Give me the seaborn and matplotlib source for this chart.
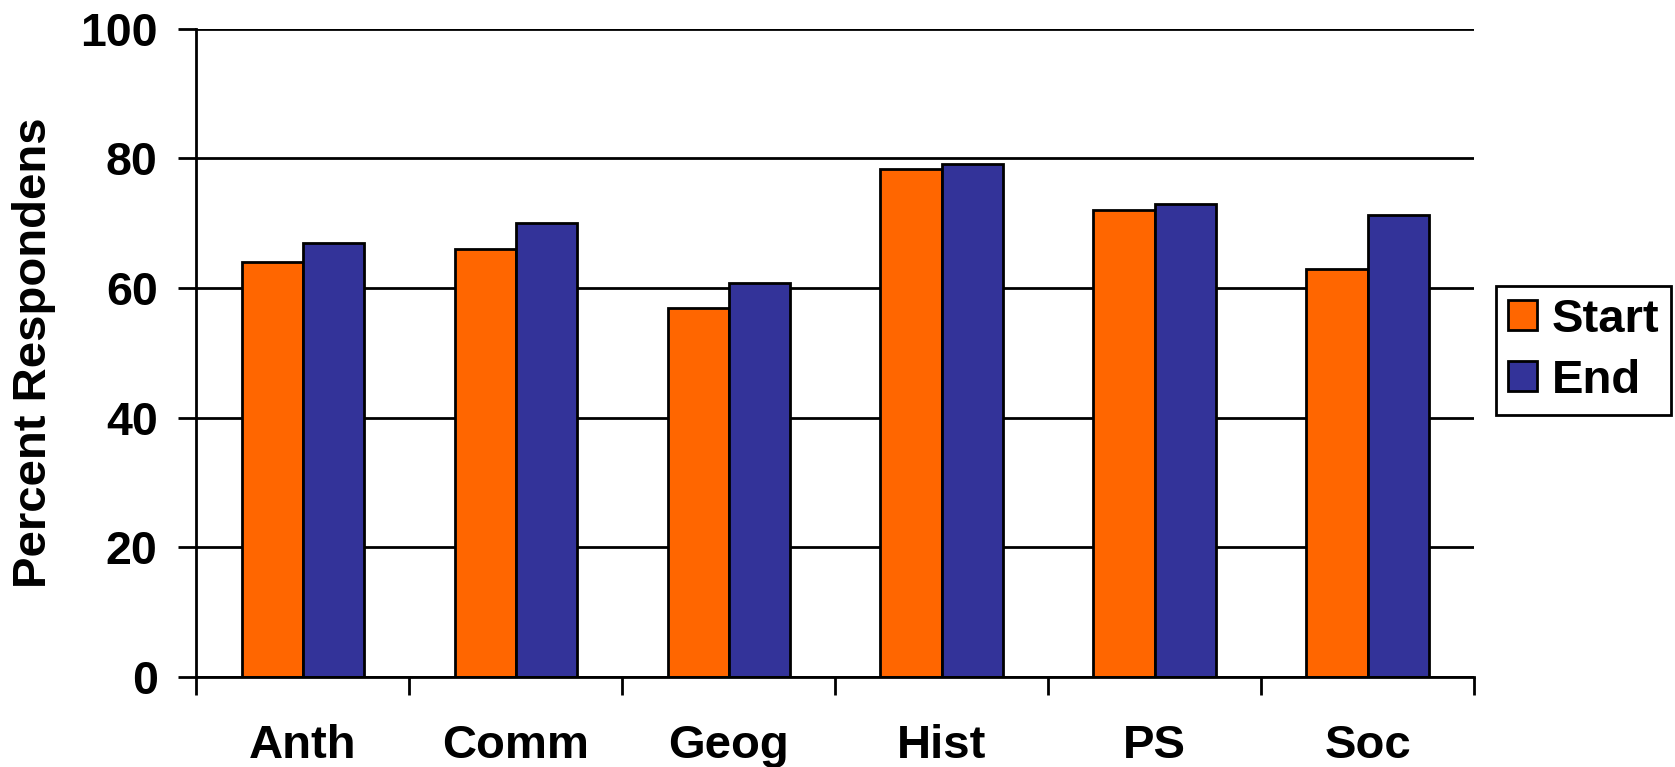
import numpy as np
import pandas as pd
import matplotlib
matplotlib.use("Agg")
import matplotlib.pyplot as plt
import seaborn as sns

categories = ["Anth", "Comm", "Geog", "Hist", "PS", "Soc"]
start_vals = [64, 66, 57, 78.3, 72, 63]
end_vals = [67, 70, 60.8, 79.2, 73, 71.2]
series_names = ["Start", "End"]
colors = ["#FF6600", "#333399"]
yticks = [0, 20, 40, 60, 80, 100]

df = pd.DataFrame({
    "Subject": categories * 2,
    "Percent": start_vals + end_vals,
    "Time": [series_names[0]] * len(categories) + [series_names[1]] * len(categories),
})

sns.set_theme(style="white")
plt.rcParams["font.family"] = ["Liberation Sans", "DejaVu Sans"]
plt.rcParams["font.weight"] = "bold"
plt.rcParams["text.color"] = "black"
plt.rcParams["axes.labelcolor"] = "black"
plt.rcParams["xtick.color"] = "black"
plt.rcParams["ytick.color"] = "black"

fig = plt.figure(figsize=(16.75, 7.67), dpi=100)
ax = fig.add_axes([0.1173, 0.1173, 0.880 - 0.1173, 0.9625 - 0.1173])

sns.barplot(data=df, x="Subject", y="Percent", hue="Time", order=categories,
            hue_order=series_names, palette=colors, width=0.575, gap=0,
            edgecolor="black", linewidth=2.0, saturation=1, ax=ax, zorder=3)

ax.set_ylim(0, 100)
ax.set_xlim(-0.5, len(categories) - 0.5)
ax.set_yticks(yticks)
ax.set_yticklabels([str(v) for v in yticks], fontsize=33.5, fontweight="bold",
                   color="black")
ax.yaxis.grid(True, color="black", linewidth=2.0, zorder=0)
ax.set_axisbelow(True)

ax.set_xticks(np.arange(-0.5, len(categories), 1.0))
ax.set_xticklabels([])
ax.set_xticks(np.arange(len(categories)), minor=True)
ax.set_xticklabels(categories, minor=True, fontsize=34, fontweight="bold",
                   color="black")
ax.tick_params(axis="x", which="major", direction="out", length=13, width=2.0,
               color="black", bottom=True)
ax.tick_params(axis="x", which="minor", length=0, pad=34)
ax.tick_params(axis="y", direction="out", length=13, width=2.0, color="black",
               left=True, pad=15)

for s in ["top", "right"]:
    ax.spines[s].set_visible(False)
for s in ["left", "bottom"]:
    ax.spines[s].set_color("black")
    ax.spines[s].set_linewidth(2.0)
    ax.spines[s].set_zorder(4)

ax.set_xlabel("")
ax.set_ylabel("Percent Respondens", fontsize=34, fontweight="bold", labelpad=17,
              color="black")

ax.get_legend().remove()
handles = [plt.Rectangle((0, 0), 1, 1, facecolor=c, edgecolor="black", linewidth=2.0)
           for c in colors]
leg = fig.legend(handles, series_names, loc="center",
                 bbox_to_anchor=(0.9454, 0.5434),
                 prop={"weight": "bold", "size": 34},
                 frameon=True, fancybox=False, framealpha=1,
                 edgecolor="black", handlelength=0.62, handleheight=0.62,
                 handletextpad=0.3, labelspacing=0.36, borderpad=0.25,
                 borderaxespad=0)
leg.get_frame().set_linewidth(2.0)
for t in leg.get_texts():
    t.set_color("black")

fig.savefig("out.png", dpi=100)
